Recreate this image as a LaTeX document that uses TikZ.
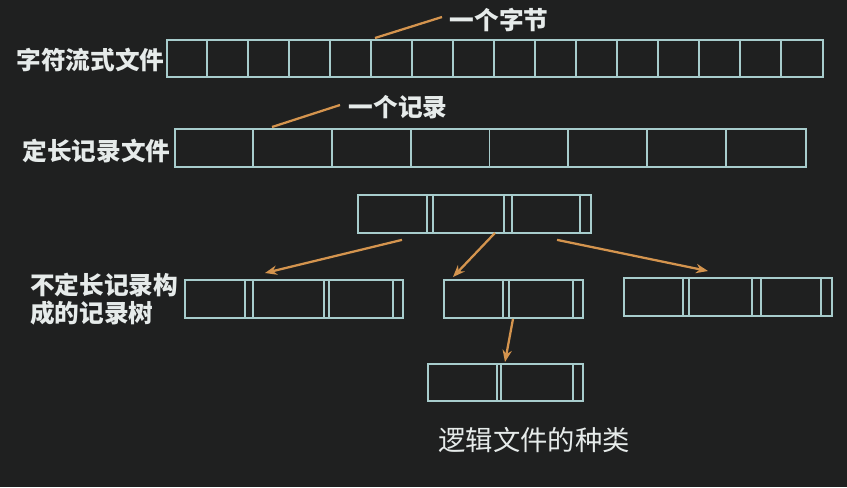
\documentclass[tikz,border=0pt]{standalone}
\usepackage{fontspec}
\newfontfamily\cjk{Noto Sans CJK SC}
\usetikzlibrary{arrows.meta,calc}
\definecolor{boardbg}{HTML}{1F2020}
\definecolor{chalkline}{HTML}{A7CCCC}
\definecolor{chalkorange}{HTML}{D4944E}
\definecolor{chalktext}{HTML}{E6EBEA}
\newcommand{\pxu}{0.75pt}
\begin{document}
\begin{tikzpicture}
[x=0.75pt, y=-0.75pt,
 rowbox/.style={draw=chalkline, line width=1.4pt, inner sep=0, anchor=north west},
 cell/.style={draw=chalkline, line width=1.4pt},
 ptr/.style={draw=chalkorange, line width=1.7pt, -{Stealth[length=9pt,width=7pt]}},
 tick/.style={draw=chalkorange, line width=1.7pt},
 boldtxt/.style={text=chalktext, font=\cjk\bfseries\fontsize{18.5}{21}\selectfont},
 plaintxt/.style={text=chalktext, font=\cjk\fontsize{20.5}{24}\selectfont}]
\fill [boardbg] (0,0) rectangle (847,487);
\useasboundingbox (0,0) rectangle (847,487);
% character stream file
\node [rowbox, minimum width=656*\pxu, minimum height=37*\pxu] (strm) at (166,39) {};
\foreach \i in {1,...,15}
  \draw [cell] ($(strm.north west)+(41*\i,0)$) -- ($(strm.south west)+(41*\i,0)$);
\node [boldtxt, anchor=east, inner sep=1pt] (strmlbl) at ($(strm.west)+(0,2)$) {字符流式文件};
\node [boldtxt, anchor=west] (byte) at (445,20) {一个字节};
\draw [tick] ($(strm.north west)+(209,-1)$) -- ($(byte.west)+(-3,-3)$);
% fixed length records
\node [rowbox, minimum width=631*\pxu, minimum height=38*\pxu] (fixr) at (174,128) {};
\foreach \i in {1,...,7}
  \draw [cell] ($(fixr.north west)+(78.875*\i,0)$) -- ($(fixr.south west)+(78.875*\i,0)$);
\node [boldtxt, anchor=east, inner sep=1pt] (fixrlbl) at ($(fixr.west)+(-2,3)$) {定长记录文件};
\node [boldtxt, anchor=west] (rec) at (344,107) {一个记录};
\draw [tick] ($(fixr.north west)+(98,-1)$) -- ($(rec.west)+(-4,-2)$);
% record tree
\node [rowbox, minimum width=233*\pxu, minimum height=38*\pxu] (root) at (357,194) {};
\foreach \d in {70,76,147,155,223}
  \draw [cell] ($(root.north west)+(\d,0)$) -- ($(root.south west)+(\d,0)$);
\node [rowbox, minimum width=218*\pxu, minimum height=38*\pxu] (lchild) at (184,279) {};
\foreach \d in {61,69,140,145,209}
  \draw [cell] ($(lchild.north west)+(\d,0)$) -- ($(lchild.south west)+(\d,0)$);
\node [rowbox, minimum width=139*\pxu, minimum height=38*\pxu] (mchild) at (443,279) {};
\foreach \d in {60,66,130}
  \draw [cell] ($(mchild.north west)+(\d,0)$) -- ($(mchild.south west)+(\d,0)$);
\node [rowbox, minimum width=208*\pxu, minimum height=38*\pxu] (rchild) at (623,277) {};
\foreach \d in {60,66,129,138,198}
  \draw [cell] ($(rchild.north west)+(\d,0)$) -- ($(rchild.south west)+(\d,0)$);
\node [rowbox, minimum width=155*\pxu, minimum height=37*\pxu] (bchild) at (427,363) {};
\foreach \d in {70,74,146}
  \draw [cell] ($(bchild.north west)+(\d,0)$) -- ($(bchild.south west)+(\d,0)$);
\draw [ptr] ($(root.south west)+(45,6)$) -- ($(lchild.north west)+(81,-6)$);
\draw [ptr] ($(root.south west)+(138,-1)$) -- ($(mchild.north west)+(10,-2)$);
\draw [ptr] ($(root.south west)+(200,6)$) -- ($(rchild.north west)+(85,-6)$);
\draw [ptr] ($(mchild.south west)+(70,0)$) -- ($(bchild.north west)+(78,-1)$);
\node [boldtxt, anchor=west, align=left, inner sep=0] (treelbl) at (30,299) {不定长记录构\\成的记录树};
% caption
\node [plaintxt] (caption) at (534,440) {逻辑文件的种类};
\end{tikzpicture}
\end{document}
